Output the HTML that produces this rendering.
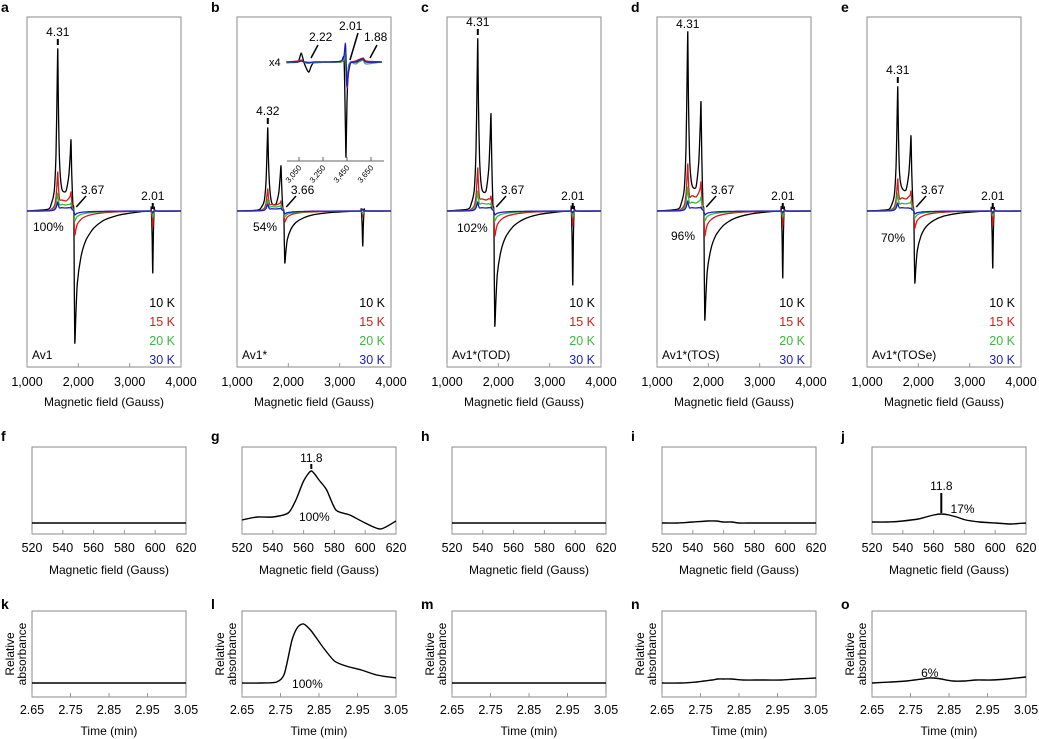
<!DOCTYPE html>
<html><head><meta charset="utf-8">
<style>
html,body{margin:0;padding:0;background:#fff;}
svg{display:block;font-family:"Liberation Sans",Arial,sans-serif;}
</style></head>
<body>
<svg id="fig" width="1039" height="739" viewBox="0 0 1039 739" xmlns="http://www.w3.org/2000/svg"></svg>
<script>
// ---------- DATA ----------
const topPanels = ["a","b","c","d","e"];
const tickFields = [1000,2000,3000,4000];
const peak431 = [[162,39,18,9],[83,22,12,7],[172,43,20,9],[179,47,24,10],[124,32,18,8]];
const valleyAmp = [[20,10,6,3],[7,6,4,2],[20,11,7,3],[24,14,8,3],[21,12,7,3]];
const peak2nd = [[71,19,8,4],[45,10,6,3],[97,15,8,4],[109,29,14,4],[75,20,10,3]];
const dip367 = [[-132,-24,-10,-4],[-52,-11,-6,-3],[-115,-25,-10,-4],[-109,-25,-10,-4],[-72,-17,-7,-3]];
const dip201 = [[-62,-16,-6,-2],[-35,-6,-3,2],[-74,-15,-6,-2],[-67,-15,-6,-2],[-57,-15,-5,-2]];
const pctLabels = ["100%","54%","102%","96%","70%"];
const sampleNames = ["Av1","Av1*","Av1*(TOD)","Av1*(TOS)","Av1*(TOSe)"];
const legendLabels = ["10 K","15 K","20 K","30 K"];
const insetFields = [2945,3040,3068,3090,3110,3133,3170,3300,3400,3425,3436,3442,3450,3462,3480,3520,3560,3585,3610,3740];
const insetBlack = [0,0,9,0,-6,-10,-1,0,0,3,-60,-95,-40,-6,0,0,1,2,0,0];
const insetRed   = [0,1,2,0,-1,-1,0,0,0,2,4,-10,-26,-12,-1,1,3,4,1,0];
const insetGreen = [-1,0,1,0,-1,0,-1,0,0,3,8,-8,-14,-6,0,-2,1,2,-2,0];
const insetBlue  = [0,0,1,0,0,-1,0,0,1,6,19,6,-24,-10,-1,0,2,3,0,0];
const insetTicks = [3050,3250,3450,3650];
const fField = [520,530,540,550,555,560,565,570,575,581,590,600,610,620];
const fVals = [
  [0,0,0,0,0,0,0,0,0,0,0,0,0,0],
  [3,6,6,10,23,42,52,43,33,13,8,0,-6,2],
  [0,0,0,0,0,0,0,0,0,0,0,0,0,0],
  [0,0,1,2,2,1,1,0,0,0,0,0,0,0],
  [1,1,2,4,6,8,9,8,6,3,1,0,-1,0]
];
const fTicks = [520,540,560,580,600,620];
const label118 = [null,"100%",null,null,"17%"];
const tTime = [2.65,2.70,2.74,2.76,2.78,2.795,2.81,2.83,2.86,2.89,2.92,2.96,3.00,3.05];
const tVals = [
  [0,0,0,0,0,0,0,0,0,0,0,0,0,0],
  [0,0,1,9,43,56,59,52,36,22,17,13,8,5],
  [0,0,0,0,0,0,0,0,0,0,0,0,0,0],
  [0,0,1,2,3,4,4,4,3,3,3,3,4,5],
  [0,1,2,3,4,5,5,4,2,2,3,3,4,6]
];
const tTicks = [2.65,2.75,2.85,2.95,3.05];
const pct3 = [null,"100%",null,null,"6%"];

// ---------- DRAW ----------
const NS="http://www.w3.org/2000/svg";
const svg=document.getElementById('fig');
function mk(tag,attrs,parent,text){const e=document.createElementNS(NS,tag);for(const k in attrs)e.setAttribute(k,attrs[k]);if(text!==undefined)e.textContent=text;(parent||svg).appendChild(e);return e;}
function smooth(P){
  let d='M'+P[0][0].toFixed(1)+','+P[0][1].toFixed(1);
  for(let i=0;i<P.length-1;i++){
    const p0=P[Math.max(0,i-1)],p1=P[i],p2=P[i+1],p3=P[Math.min(P.length-1,i+2)];
    const t=0.12;
    const c1=[p1[0]+(p2[0]-p0[0])*t,p1[1]+(p2[1]-p0[1])*t];
    const c2=[p2[0]-(p3[0]-p1[0])*t,p2[1]-(p3[1]-p1[1])*t];
    d+=' C'+c1[0].toFixed(1)+','+c1[1].toFixed(1)+' '+c2[0].toFixed(1)+','+c2[1].toFixed(1)+' '+p2[0].toFixed(1)+','+p2[1].toFixed(1);
  }
  return d;
}
const colors=["#000","#d01c1c","#3cb83c","#1c1cc8"];
const tops=[27,237,447,657,867];
const lows=[32,242,452,662,872];
const W=154;

function specKnots(p1,v,p2,d,g){
  return [[1000,0],[1400,p1*.01],[1470,p1*.04],[1530,p1*.12],[1565,p1*.35],[1588,p1*.8],[1600,p1],[1612,p1*.65],[1635,Math.max(p1*.3,v)],[1680,v*1.1],[1760,v],[1815,v+(p2-v)*.3],[1843,p2*.8],[1858,p2],[1872,p2*.5],[1895,v*.3],[1912,0],[1922,d*.6],[1932,d],[1950,d*.8],[1980,d*.55],[2050,d*.35],[2150,d*.22],[2300,d*.13],[2500,d*.07],[2800,d*.03],[3200,d*.006],[3400,0],[3420,-g*.05],[3438,g*.45],[3450,g],[3462,g*.35],[3480,-g*.05],[3520,0],[4000,0]];
}

topPanels.forEach((lab,i)=>{
  const L=tops[i],T=17,B=367,base=211;
  const g=mk('g',{},svg);
  
  
  const xs=f=>L+(f-1000)/3000*W;
  const ys=v=>base-v;
  const pl=mk('text',{x:L-26,y:12,'font-size':14,'font-weight':'bold'},g,lab);
  
  const fr=mk('rect',{x:L,y:T,width:W,height:B-T,fill:'none',stroke:'#8a8a8a','stroke-width':1},g);
  
  tickFields.forEach(f=>{
    const t=mk('line',{x1:xs(f),x2:xs(f),y1:B,y2:B-4,stroke:'#999'},g);
    
    const tl=mk('text',{x:xs(f),y:386,'font-size':12.5,'text-anchor':'middle'},g,f.toLocaleString('en-US'));
    
  });
  const at=mk('text',{x:L+W/2,y:406,'font-size':12,'text-anchor':'middle'},g,'Magnetic field (Gauss)');
  
  [0,1,2,3].forEach(s=>{
    const k=specKnots(peak431[i][s],valleyAmp[i][s],peak2nd[i][s],dip367[i][s],dip201[i][s]);
    const P=k.map(p=>[xs(p[0]),ys(p[1])]);
    const p=mk('path',{d:smooth(P),fill:'none',stroke:colors[s],'stroke-width':1.3,'stroke-linejoin':'round'},g);
    
    
  });
  const pk=ys(peak431[i][0]);
  const pkLab=i===1?'4.32':'4.31';
  if(i===3){
    const a1=mk('text',{x:xs(1600),y:pk-4,'font-size':12,'text-anchor':'middle'},g,pkLab);
    
  } else {
    const a1=mk('text',{x:xs(1600),y:pk-13,'font-size':12,'text-anchor':'middle'},g,pkLab);
    
    mk('line',{x1:xs(1600),x2:xs(1600),y1:pk-10,y2:pk-4,stroke:'#000','stroke-width':2},g);
  }
  const a2=mk('text',{x:xs(2050),y:194,'font-size':12},g,i===1?'3.66':'3.67');
  
  mk('line',{x1:xs(1960),y1:207,x2:xs(2150),y2:196,stroke:'#000','stroke-width':1.5},g);
  if(i!==1){
    const a3=mk('text',{x:xs(3450),y:200,'font-size':12,'text-anchor':'middle'},g,'2.01');
    
    mk('line',{x1:xs(3450),x2:xs(3450),y1:203,y2:209,stroke:'#000','stroke-width':2},g);
  }
  const pc=mk('text',{x:L+(i===0?6:i===1?16:i===2?10:14),y:[231,231,232,240,242][i],'font-size':12},g,pctLabels[i]);
  
  legendLabels.forEach((t,s)=>{
    const le=mk('text',{x:L+148,y:307+s*19,'font-size':12.5,'text-anchor':'end',fill:colors[s]},g,t);
    
  });
  const sn=mk('text',{x:L+5,y:359,'font-size':12},g,sampleNames[i]);
  

  if(i===1){
    const ig=mk('g',{},g);
    
    const ix=f=>299+(f-3050)/200*24;
    const iy=v=>62-v;
    mk('line',{x1:287,x2:384,y1:161,y2:161,stroke:'#666'},ig);
    insetTicks.forEach(f=>{
      mk('line',{x1:ix(f),x2:ix(f),y1:161,y2:157,stroke:'#666'},ig);
      const tl=mk('text',{x:ix(f)+3,y:168,'font-size':8,'text-anchor':'end',transform:'rotate(-50 '+(ix(f)+3)+' 168)'},ig,f.toLocaleString('en-US'));
      
    });
    [insetBlack,insetRed,insetGreen,insetBlue].forEach((arr,s)=>{
      const P=insetFields.map((f,j)=>[ix(f),iy(arr[j])]);
      const p=mk('path',{d:smooth(P),fill:'none',stroke:colors[s],'stroke-width':1.3},ig);
      
    });
    mk('text',{x:269,y:66,'font-size':11},ig,'x4');
    mk('text',{x:309,y:41,'font-size':12},ig,'2.22');
    mk('line',{x1:311,y1:58,x2:318,y2:45,stroke:'#000','stroke-width':1.5},ig);
    mk('text',{x:339,y:30,'font-size':12},ig,'2.01');
    mk('line',{x1:350,y1:60,x2:358,y2:33,stroke:'#000','stroke-width':1.5},ig);
    mk('text',{x:364,y:41,'font-size':12},ig,'1.88');
    mk('line',{x1:370,y1:58,x2:377,y2:45,stroke:'#000','stroke-width':1.5},ig);
  }
});

// row 2
const row2L=["f","g","h","i","j"];
row2L.forEach((lab,i)=>{
  const L=lows[i],T=447,B=534,base=523;
  const g=mk('g',{},svg);
  
  const xs=f=>L+(f-520)/100*W;
  const pl=mk('text',{x:L-31,y:441,'font-size':14,'font-weight':'bold'},g,lab);
  
  const fr=mk('rect',{x:L,y:T,width:W,height:B-T,fill:'none',stroke:'#8a8a8a'},g);
  
  fTicks.forEach(f=>{
    mk('line',{x1:xs(f),x2:xs(f),y1:B,y2:B-4,stroke:'#999'},g);
    const tl=mk('text',{x:xs(f),y:552,'font-size':12.5,'text-anchor':'middle'},g,f);
    
  });
  const at=mk('text',{x:L+W/2,y:574,'font-size':12,'text-anchor':'middle'},g,'Magnetic field (Gauss)');
  
  const P=fField.map((f,j)=>[xs(f),base-fVals[i][j]]);
  const p=mk('path',{d:smooth(P),fill:'none',stroke:'#000','stroke-width':1.4,'stroke-linejoin':'round'},g);
  
  if(label118[i]){
    const pk=base-Math.max(...fVals[i]);
    if(i===1){
      mk('text',{x:xs(565),y:pk-9,'font-size':12,'text-anchor':'middle'},g,'11.8');
      mk('line',{x1:xs(565),x2:xs(565),y1:pk-7,y2:pk-2,stroke:'#000','stroke-width':2},g);
      mk('text',{x:xs(557),y:521,'font-size':12},g,label118[i]);
    } else {
      mk('text',{x:xs(565),y:490,'font-size':12,'text-anchor':'middle'},g,'11.8');
      mk('line',{x1:xs(565),x2:xs(565),y1:493,y2:pk-1,stroke:'#000','stroke-width':2},g);
      mk('text',{x:xs(571),y:513,'font-size':12},g,label118[i]);
    }
  }
});

// row 3
const row3L=["k","l","m","n","o"];
row3L.forEach((lab,i)=>{
  const L=lows[i],T=611,B=697,base=683;
  const g=mk('g',{},svg);
  
  const xs=t=>L+(t-2.65)/0.4*W;
  const pl=mk('text',{x:L-31,y:609,'font-size':14,'font-weight':'bold'},g,lab);
  
  const fr=mk('rect',{x:L,y:T,width:W,height:B-T,fill:'none',stroke:'#8a8a8a'},g);
  
  tTicks.forEach(t=>{
    mk('line',{x1:xs(t),x2:xs(t),y1:B,y2:B-4,stroke:'#999'},g);
    const tl=mk('text',{x:xs(t),y:714,'font-size':12.5,'text-anchor':'middle'},g,t.toFixed(2));
    
  });
  const at=mk('text',{x:L+W/2,y:735,'font-size':12,'text-anchor':'middle'},g,'Time (min)');
  
  const yt=mk('text',{x:0,y:0,'font-size':12,'text-anchor':'middle',transform:'translate('+(L-18)+',654) rotate(-90)'},g,'Relative');
  
  const yt2=mk('text',{x:0,y:0,'font-size':12,'text-anchor':'middle',transform:'translate('+(L-6)+',654) rotate(-90)'},g,'absorbance');
  
  const P=tTime.map((t,j)=>[xs(t),base-tVals[i][j]]);
  const p=mk('path',{d:smooth(P),fill:'none',stroke:'#000','stroke-width':1.4,'stroke-linejoin':'round'},g);
  
  if(pct3[i]){
    const pc=mk('text',{x:i===1?xs(2.78):xs(2.80),y:i===1?688:677,'font-size':12,'text-anchor':i===1?'start':'middle'},g,pct3[i]);
    
  }
});
</script>
</body></html>
